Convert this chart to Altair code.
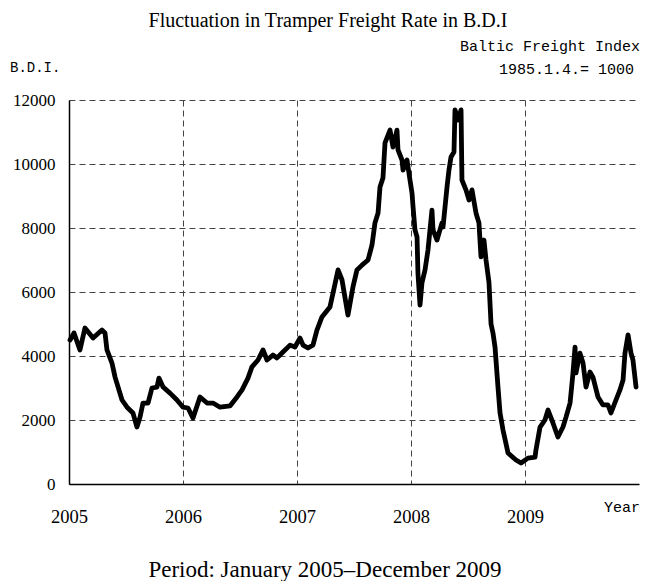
import altair as alt
import pandas as pd

# Decimal year and B.D.I. value
years = [2005.009, 2005.044, 2005.096, 2005.140, 2005.211, 2005.289, 2005.316, 2005.333,
         2005.377, 2005.404, 2005.465, 2005.509, 2005.561, 2005.596, 2005.623, 2005.649,
         2005.693, 2005.728, 2005.772, 2005.789, 2005.825, 2005.886, 2005.947, 2006.000,
         2006.044, 2006.088, 2006.149, 2006.211, 2006.263, 2006.325, 2006.412, 2006.474,
         2006.518, 2006.570, 2006.605, 2006.658, 2006.702, 2006.737, 2006.789, 2006.825,
         2006.877, 2006.939, 2006.982, 2007.026, 2007.053, 2007.096, 2007.140, 2007.175,
         2007.219, 2007.289, 2007.316, 2007.360, 2007.395, 2007.447, 2007.491, 2007.526,
         2007.570, 2007.623, 2007.658, 2007.684, 2007.711, 2007.728, 2007.754, 2007.772,
         2007.816, 2007.842, 2007.877, 2007.886, 2007.921, 2007.930, 2007.965, 2007.991,
         2008.009, 2008.018, 2008.035, 2008.053, 2008.061, 2008.079, 2008.096, 2008.123,
         2008.149, 2008.184, 2008.193, 2008.228, 2008.272, 2008.281, 2008.316, 2008.333,
         2008.351, 2008.377, 2008.386, 2008.412, 2008.439, 2008.447, 2008.482, 2008.509,
         2008.535, 2008.570, 2008.596, 2008.614, 2008.640, 2008.658, 2008.684, 2008.702,
         2008.719, 2008.737, 2008.763, 2008.781, 2008.807, 2008.851, 2008.921, 2008.965,
         2009.026, 2009.088, 2009.096, 2009.132, 2009.175, 2009.202, 2009.246, 2009.289,
         2009.333, 2009.360, 2009.395, 2009.404, 2009.421, 2009.439, 2009.447, 2009.482,
         2009.509, 2009.535, 2009.570, 2009.596, 2009.640, 2009.684, 2009.728, 2009.754,
         2009.798, 2009.833, 2009.860, 2009.877, 2009.904, 2009.930, 2009.947, 2009.974]
bdi = [4500, 4720, 4190, 4875, 4560, 4810, 4720, 4190,
       3780, 3340, 2625, 2400, 2220, 1780, 2090, 2530,
       2530, 3000, 3030, 3310, 3030, 2840, 2625, 2400,
       2375, 2060, 2720, 2530, 2530, 2400, 2440, 2720,
       2940, 3310, 3660, 3875, 4190, 3875, 4030, 3940,
       4125, 4340, 4280, 4560, 4340, 4250, 4340, 4810,
       5220, 5530, 5970, 6690, 6375, 5280, 6160, 6690,
       6840, 7000, 7470, 8160, 8470, 9280, 9560, 10660,
       11060, 10530, 11060, 10440, 10125, 9810, 10125, 9500,
       9090, 8660, 7940, 7720, 6590, 5590, 6280, 6690,
       7310, 8560, 7940, 7625, 8160, 8030, 9280, 9810,
       10220, 10375, 11690, 11375, 11690, 9500, 9190, 8875,
       9190, 8470, 8160, 7100, 7625, 7000, 6300, 5000,
       4720, 4280, 3030, 2220, 1690, 970, 750, 655,
       810, 840, 1060, 1780, 2000, 2310, 1900, 1470,
       1780, 2090, 2530, 2840, 3470, 4280, 3470, 4090,
       3780, 3030, 3500, 3340, 2720, 2470, 2470, 2220,
       2625, 2940, 3250, 4090, 4660, 4090, 3875, 3030]

x_ticks = [2005, 2006, 2007, 2008, 2009]
y_ticks = [0, 2000, 4000, 6000, 8000, 10000, 12000]

title_text = "Fluctuation in Tramper Freight Rate in B.D.I"
note_line1 = "Baltic Freight Index"
note_line2 = "1985.1.4.= 1000"
y_title = "B.D.I."
x_title = "Year"
period_text = "Period: January 2005\u2013December 2009"

df = pd.DataFrame({"t": years, "bdi": bdi})
one = pd.DataFrame({"a": [0]})

SERIF = "Liberation Serif"
MONO = "Liberation Mono"

line = alt.Chart(df).mark_line(
    color="black", strokeWidth=4.8, strokeJoin="round", strokeCap="round"
).encode(
    x=alt.X("t:Q",
            scale=alt.Scale(domain=[2005, 2010], nice=False, zero=False),
            axis=alt.Axis(values=x_ticks, format="d", title=None, ticks=False,
                          labelFont=SERIF, labelFontSize=18.5, labelColor="black",
                          labelPadding=23, labelAlign="center",
                          domainColor="black", domainWidth=1.5,
                          grid=True, gridDash=[6, 4], gridColor="#444", gridWidth=1)),
    y=alt.Y("bdi:Q",
            scale=alt.Scale(domain=[0, 12000], nice=False),
            axis=alt.Axis(values=y_ticks, format="d", title=None, ticks=False,
                          labelFont=SERIF, labelFontSize=17, labelColor="black",
                          labelPadding=14, labelBaseline="middle",
                          domainColor="black", domainWidth=1.5,
                          grid=True, gridDash=[6, 4], gridColor="#444", gridWidth=1)),
)


def label(text, x, y, font, size, align, baseline="middle"):
    return alt.Chart(one).mark_text(
        font=font, fontSize=size, align=align, baseline=baseline, color="black"
    ).encode(x=alt.value(x), y=alt.value(y), text=alt.value(text))


chart = alt.layer(
    line,
    label(title_text, 259, -79, SERIF, 20, "center"),
    label(note_line1, 571, -54, MONO, 15, "right"),
    label(note_line2, 565, -31, MONO, 15, "right"),
    label(y_title, -59, -32, MONO, 14, "left"),
    label(x_title, 571, 407, MONO, 15, "right"),
    label(period_text, 256, 477, SERIF, 23, "center", "alphabetic"),
).properties(
    width=570, height=384,
    autosize=alt.AutoSizeParams(type="none"),
    padding={"left": 61, "top": 92, "right": 2, "bottom": 97},
).configure_view(stroke=None)

chart.save("out.html", embed_options={"renderer": "svg", "actions": False})
